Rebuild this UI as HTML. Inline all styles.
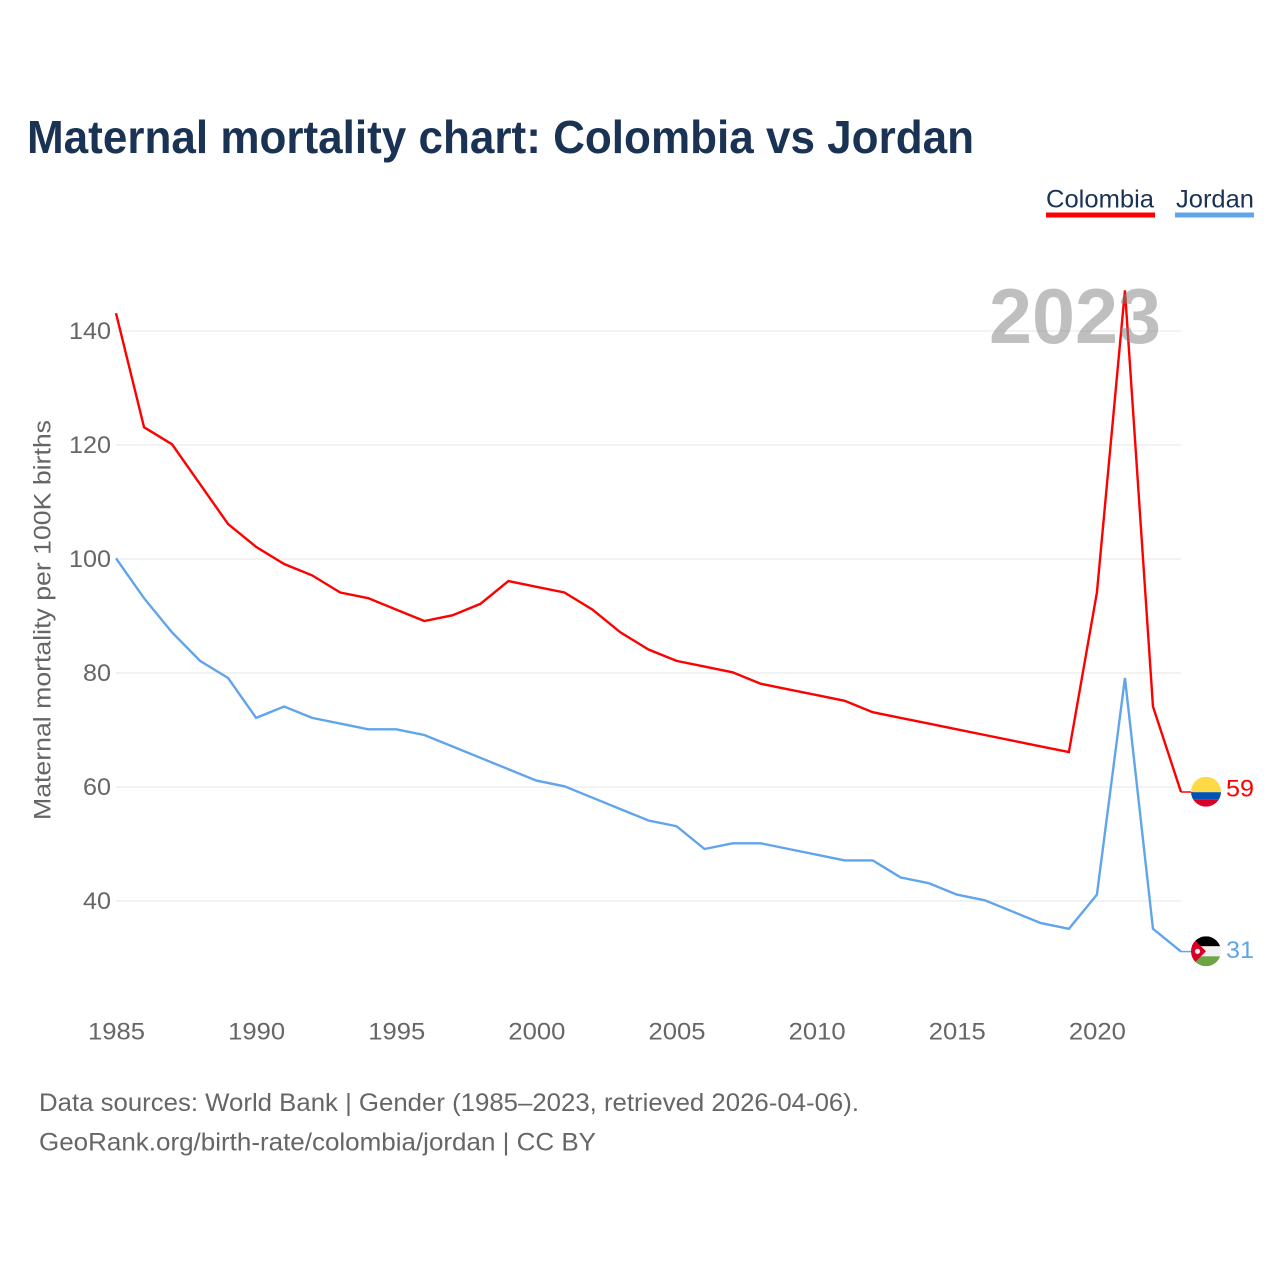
<!DOCTYPE html>
<html lang="en">
<head>
<meta charset="utf-8">
<title>Maternal mortality chart: Colombia vs Jordan</title>
<style>
  html, body { margin: 0; padding: 0; background: #fff; }
  svg { display: block; font-family: "Liberation Sans", sans-serif; }
</style>
</head>
<body>
<svg id="chart" xmlns="http://www.w3.org/2000/svg" width="1280" height="1280" viewBox="0 0 1280 1280">
  <rect width="1280" height="1280" fill="#ffffff"/>
  <text x="27" y="153" font-size="46" font-weight="700" fill="#1a3253" textLength="947" lengthAdjust="spacingAndGlyphs">Maternal mortality chart: Colombia vs Jordan</text>

  <g>
    <text x="1046" y="207.5" font-size="25" fill="#1a3253" textLength="108" lengthAdjust="spacingAndGlyphs">Colombia</text>
    <rect x="1046" y="212.5" width="109" height="5" fill="#ff0000"/>
  </g>
  <g>
    <text x="1176" y="207.5" font-size="25" fill="#1a3253" textLength="78" lengthAdjust="spacingAndGlyphs">Jordan</text>
    <rect x="1175" y="212.5" width="79" height="5" fill="#60a5ec"/>
  </g>

  <g id="grid"></g>
  <g id="yticks"></g>
  <g id="xticks"></g>
  <text transform="translate(50.5,820) rotate(-90)" font-size="24" fill="#666666" textLength="400" lengthAdjust="spacingAndGlyphs">Maternal mortality per 100K births</text>

  <g id="series"></g>

  <text x="989" y="343" font-size="78" font-weight="700" fill="#808080" fill-opacity="0.5" textLength="172" lengthAdjust="spacingAndGlyphs">2023</text>

  <defs>
    <clipPath id="clip-co"><circle id="clip-co-c" r="15"/></clipPath>
    <clipPath id="clip-jo"><circle id="clip-jo-c" r="15"/></clipPath>
  </defs>
  <g id="flags"></g>

  <text x="39" y="1111" font-size="25" fill="#666666" textLength="820" lengthAdjust="spacingAndGlyphs">Data sources: World Bank | Gender (1985–2023, retrieved 2026-04-06).</text>
  <text x="39" y="1150.5" font-size="25" fill="#666666" textLength="557" lengthAdjust="spacingAndGlyphs">GeoRank.org/birth-rate/colombia/jordan | CC BY</text>
</svg>
<script>
const years = [1985,1986,1987,1988,1989,1990,1991,1992,1993,1994,1995,1996,1997,1998,1999,2000,2001,2002,2003,2004,2005,2006,2007,2008,2009,2010,2011,2012,2013,2014,2015,2016,2017,2018,2019,2020,2021,2022,2023];
const colombiaValues = [143,123,120,113,106,102,99,97,94,93,91,89,90,92,96,95,94,91,87,84,82,81,80,78,77,76,75,73,72,71,70,69,68,67,66,94,147,74,59];
const jordanValues = [100,93,87,82,79,72,74,72,71,70,70,69,67,65,63,61,60,58,56,54,53,49,50,50,49,48,47,47,44,43,41,40,38,36,35,41,79,35,31];
const yTickValues = [40,60,80,100,120,140];
const xTickValues = [1985,1990,1995,2000,2005,2010,2015,2020];

const NS = 'http://www.w3.org/2000/svg';
function x(year) { return 116 + (year - 1985) * (1181 - 116) / 38; }
function y(value) { return 901 - (value - 40) * 5.7; }
function make(parent, tag, attrs, text) {
  const el = document.createElementNS(NS, tag);
  for (const k in attrs) el.setAttribute(k, attrs[k]);
  if (text !== undefined) el.textContent = text;
  parent.appendChild(el);
  return el;
}

const grid = document.getElementById('grid');
const yticks = document.getElementById('yticks');
yTickValues.forEach(function (v) {
  const line = make(grid, 'line', { x1: x(1985), x2: x(2023), y1: y(v), y2: y(v), stroke: '#eeeeee', 'stroke-width': 1.5 });
  
  
  const label = make(yticks, 'text', { x: 111, y: y(v) + 8, 'text-anchor': 'end', 'font-size': 24.5, fill: '#666666', textLength: String(v).length * 14, lengthAdjust: 'spacingAndGlyphs' }, String(v));
  
  
});

const xticks = document.getElementById('xticks');
xTickValues.forEach(function (yr) {
  const label = make(xticks, 'text', { x: x(yr) + 0.5, y: 1039.5, 'text-anchor': 'middle', 'font-size': 24.5, fill: '#666666', textLength: 57, lengthAdjust: 'spacingAndGlyphs' }, String(yr));
  
  
});

const series = document.getElementById('series');
const lineShift = -0.7;
function drawSeries(name, values, color) {
  const pts = values.map(function (v, i) { return x(years[i]).toFixed(2) + ',' + (y(v) + lineShift).toFixed(2); }).join(' ');
  const line = make(series, 'polyline', { points: pts, fill: 'none', stroke: color, 'stroke-width': 2.4, 'stroke-linejoin': 'miter' });
  
  
  const last = values[values.length - 1];
  const lead = make(series, 'line', { x1: x(2023), x2: x(2023) + 12, y1: y(last) + lineShift, y2: y(last) + lineShift, stroke: color, 'stroke-width': 1.5 });
  
  
}
drawSeries('colombia', colombiaValues, '#ff0000');
drawSeries('jordan', jordanValues, '#60a5ec');

const flags = document.getElementById('flags');
const cx = 1206;

/* Colombia flag + value */
const coLast = colombiaValues[colombiaValues.length - 1];
const coY = y(coLast) - 1;
const coClip = document.getElementById('clip-co-c');
coClip.setAttribute('cx', cx);
coClip.setAttribute('cy', coY);
const coFlag = make(flags, 'g', { 'clip-path': 'url(#clip-co)' });


make(coFlag, 'rect', { x: cx - 15, y: coY - 15, width: 30, height: 15.5, fill: '#ffda44' });
make(coFlag, 'rect', { x: cx - 15, y: coY + 0.5, width: 30, height: 7.5, fill: '#0052b4' });
make(coFlag, 'rect', { x: cx - 15, y: coY + 8, width: 30, height: 7, fill: '#d80027' });
const coLabel = make(flags, 'text', { x: 1226, y: coY + 5, 'font-size': 24.5, fill: '#ff0000', textLength: 28, lengthAdjust: 'spacingAndGlyphs' }, String(coLast));



/* Jordan flag + value */
const joLast = jordanValues[jordanValues.length - 1];
const joY = y(joLast) - 1;
const joClip = document.getElementById('clip-jo-c');
joClip.setAttribute('cx', cx);
joClip.setAttribute('cy', joY);
const joFlag = make(flags, 'g', { 'clip-path': 'url(#clip-jo)' });


make(joFlag, 'rect', { x: cx - 15, y: joY - 15, width: 30, height: 10, fill: '#000000' });
make(joFlag, 'rect', { x: cx - 15, y: joY - 5, width: 30, height: 10, fill: '#f0f0f0' });
make(joFlag, 'rect', { x: cx - 15, y: joY + 5, width: 30, height: 10, fill: '#6da544' });
make(joFlag, 'polygon', { points: (cx - 15) + ',' + (joY - 15) + ' ' + cx + ',' + joY + ' ' + (cx - 15) + ',' + (joY + 15), fill: '#d80027' });
make(joFlag, 'circle', { cx: cx - 8.5, cy: joY, r: 2.6, fill: '#f0f0f0' });
const joLabel = make(flags, 'text', { x: 1226, y: joY + 6.5, 'font-size': 24.5, fill: '#60a5ec', textLength: 28, lengthAdjust: 'spacingAndGlyphs' }, String(joLast));


</script>
</body>
</html>
